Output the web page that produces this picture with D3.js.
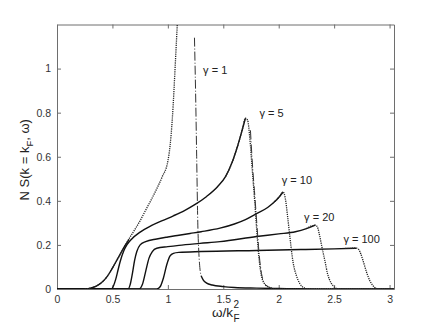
<!DOCTYPE html>
<html>
<head>
<meta charset="utf-8">
<script src="https://cdn.jsdelivr.net/npm/d3@7"></script>
<style>
body { margin:0; background:#fff; }
text { font-family: "Liberation Sans", Arial, sans-serif; }
</style>
</head>
<body>
<svg width="436" height="327"></svg>
<script>
// tick values
var omegaTicks = [0, 0.5, 1, 1.5, 2, 2.5, 3]
var sTicks = [0, 0.2, 0.4, 0.6, 0.8, 1]

// curves, [omega/kF^2, N S]
var g1Solid = [[0,0],[0.25,0],[0.3,0.004],[0.35,0.012],[0.4,0.028],[0.45,0.055],[0.5,0.095],[0.55,0.14],[0.6,0.185],[0.65,0.225]]
var g1Dots = [[0.25,0],[0.3,0.004],[0.35,0.012],[0.4,0.028],[0.45,0.055],[0.5,0.095],[0.55,0.14],[0.6,0.185],[0.65,0.228],[0.7,0.268],[0.75,0.31],[0.8,0.358],[0.85,0.405],[0.9,0.455],[0.95,0.51],[1.0,0.58],[1.02,0.65],[1.04,0.77],[1.055,0.9],[1.065,1.0],[1.075,1.1],[1.085,1.2]]
var g1Fall = [[1.24,1.14],[1.25,0.9],[1.26,0.6],[1.27,0.3],[1.28,0.16],[1.29,0.09],[1.3,0.06]]
var g1Tail = [[1.3,0.06],[1.32,0.04],[1.35,0.027],[1.4,0.018],[1.5,0.011],[1.6,0.007],[1.8,0.004],[2.0,0.002],[2.2,0.001],[2.5,0],[3.04,0]]

var g5Solid = [[0,0],[0.49,0],[0.51,0.015],[0.53,0.045],[0.55,0.085],[0.57,0.125],[0.6,0.17],[0.63,0.2],[0.67,0.225],[0.75,0.258],[0.85,0.287],[0.95,0.31],[1.05,0.332],[1.15,0.356],[1.25,0.385],[1.35,0.42],[1.45,0.465],[1.52,0.51],[1.58,0.575],[1.63,0.65],[1.67,0.72],[1.7,0.775]]
var g5Dots = [[1.52,0.51],[1.58,0.575],[1.63,0.65],[1.67,0.72],[1.7,0.775],[1.72,0.765],[1.74,0.68],[1.76,0.55],[1.78,0.42],[1.8,0.28],[1.82,0.15],[1.84,0.07],[1.87,0.025],[1.92,0.006],[1.98,0],[3.04,0]]
var g5Fall = [[1.745,0.72],[1.765,0.55],[1.785,0.42],[1.805,0.28],[1.825,0.15],[1.845,0.07],[1.88,0.02],[1.95,0.003]]

var g10Solid = [[0,0],[0.64,0],[0.66,0.02],[0.68,0.07],[0.7,0.13],[0.72,0.17],[0.75,0.2],[0.8,0.215],[0.9,0.227],[1.0,0.236],[1.1,0.244],[1.2,0.252],[1.3,0.26],[1.47,0.276],[1.6,0.295],[1.7,0.315],[1.8,0.342],[1.9,0.37],[1.95,0.39],[2.0,0.415],[2.04,0.44]]
var g10Dots = [[1.95,0.39],[2.0,0.415],[2.04,0.44],[2.06,0.41],[2.08,0.33],[2.1,0.24],[2.13,0.12],[2.16,0.06],[2.19,0.025],[2.23,0.005],[2.27,0],[3.04,0]]

var g20Solid = [[0,0],[0.74,0],[0.77,0.02],[0.8,0.08],[0.83,0.14],[0.86,0.17],[0.9,0.185],[1.0,0.192],[1.1,0.198],[1.29,0.207],[1.47,0.215],[1.8,0.238],[2.0,0.25],[2.15,0.26],[2.25,0.274],[2.33,0.29]]
var g20Dots = [[2.25,0.274],[2.33,0.29],[2.35,0.28],[2.37,0.24],[2.39,0.19],[2.42,0.12],[2.44,0.07],[2.46,0.04],[2.49,0.015],[2.52,0.003],[2.56,0],[3.04,0]]

var g100Solid = [[0,0],[0.9,0],[0.93,0.01],[0.96,0.05],[0.99,0.11],[1.02,0.15],[1.05,0.162],[1.1,0.166],[1.3,0.17],[1.8,0.175],[2.2,0.179],[2.5,0.182],[2.7,0.185]]
var g100Dots = [[2.6,0.184],[2.7,0.185],[2.72,0.18],[2.74,0.16],[2.76,0.13],[2.79,0.08],[2.82,0.04],[2.85,0.015],[2.88,0.003],[2.92,0],[3.04,0]]

var gammaLabels = ["γ = 1", "γ = 5", "γ = 10", "γ = 20", "γ = 100"]
// where each label sits, in data units
var labelOmega = [1.318, 1.826, 2.028, 2.229, 2.584]
var labelS = [0.977, 0.782, 0.477, 0.309, 0.209]

var drawChart = function()
{
    var svg = d3.select("svg")
    var plot = {left:57, top:24.5, right:394, bottom:289}

    var xScale = d3.scaleLinear()
    .domain([0,3.04])
    .range([plot.left,plot.right])

    var yScale = d3.scaleLinear()
    .domain([0,1.2])
    .range([plot.bottom,plot.top])

    svg.append("clipPath")
    .attr("id","plotClip")
    .append("rect")
    .attr("x",plot.left)
    .attr("y",plot.top)
    .attr("width",plot.right-plot.left)
    .attr("height",plot.bottom-plot.top)

    //axes, matlab style box with inward ticks
    var axisColor = "#6e6e6e"
    var tickLen = 4
    var fmt = function(d){return String(d)}

    var bottomAxis = d3.axisBottom(xScale).tickValues(omegaTicks).tickSizeInner(-tickLen).tickSizeOuter(0).tickPadding(7).tickFormat(fmt)
    var topAxis = d3.axisTop(xScale).tickValues(omegaTicks).tickSizeInner(-tickLen).tickSizeOuter(0).tickFormat("")
    var leftAxis = d3.axisLeft(yScale).tickValues(sTicks).tickSizeInner(-tickLen).tickSizeOuter(0).tickPadding(6).tickFormat(fmt)
    var rightAxis = d3.axisRight(yScale).tickValues(sTicks).tickSizeInner(-tickLen).tickSizeOuter(0).tickFormat("")

    var axes = [
        {axis:bottomAxis, t:"translate(0,"+plot.bottom+")"},
        {axis:topAxis, t:"translate(0,"+plot.top+")"},
        {axis:leftAxis, t:"translate("+plot.left+",0)"},
        {axis:rightAxis, t:"translate("+plot.right+",0)"}
    ]
    axes.forEach(function(a)
    {
        var g = svg.append("g")
        .attr("transform",a.t)
        .call(a.axis)
        g.select(".domain").attr("stroke",axisColor)
        g.selectAll(".tick line").attr("stroke",axisColor)
        g.selectAll(".tick text")
        .attr("fill","#333")
        .style("font-size","10.5px")
        .style("font-family","'Liberation Sans', Arial, sans-serif")
    })

    var line = d3.line()
    .x(function(d){return xScale(d[0])})
    .y(function(d){return yScale(d[1])})
    .curve(d3.curveMonotoneX)

    var curves = svg.append("g").attr("clip-path","url(#plotClip)")

    var drawCurve = function(data, color, width, dash)
    {
        curves.append("path")
        .datum(data)
        .attr("d",line)
        .attr("fill","none")
        .attr("stroke",color)
        .attr("stroke-width",width)
        .attr("stroke-dasharray",dash)
    }

    var solids = [g1Solid, g1Tail, g5Solid, g10Solid, g20Solid, g100Solid]
    solids.forEach(function(d){ drawCurve(d,"#111",1.4,null) })

    var dots = [g1Dots, g5Dots, g10Dots, g20Dots, g100Dots]
    dots.forEach(function(d){ drawCurve(d,"#222",1.3,"1.2,1") })

    drawCurve(g1Fall,"#333",1,"9,2,1,2")
    drawCurve(g5Fall,"#333",1,"9,2,1,2")

    //gamma labels
    svg.append("g")
    .selectAll("text")
    .data(gammaLabels)
    .enter()
    .append("text")
    .attr("x",function(d,i){return xScale(labelOmega[i])})
    .attr("y",function(d,i){return yScale(labelS[i])})
    .attr("fill","#222")
    .style("font-size","11px")
    .text(function(d){return d})

    //x label: omega / k_F^2
    var xl = svg.append("text")
    .attr("x",212)
    .attr("y",316.5)
    .attr("fill","#222")
    .style("font-size","13.5px")
    xl.append("tspan").text("ω/k")
    xl.append("tspan").attr("dx",0.5).attr("dy",-8.5).style("font-size","10px").text("2")
    xl.append("tspan").attr("dx",-5.5).attr("dy",14).style("font-size","10px").text("F")

    //y label
    var yl = svg.append("text")
    .attr("transform","translate(29,"+((plot.top+plot.bottom)/2+3)+") rotate(-90)")
    .attr("text-anchor","middle")
    .attr("fill","#222")
    .style("font-size","13px")
    yl.append("tspan").text("N S(k = k")
    yl.append("tspan").attr("dy",4).style("font-size","9.5px").text("F")
    yl.append("tspan").attr("dy",-4).text(", ω)")
}

drawChart()
</script>
</body>
</html>
